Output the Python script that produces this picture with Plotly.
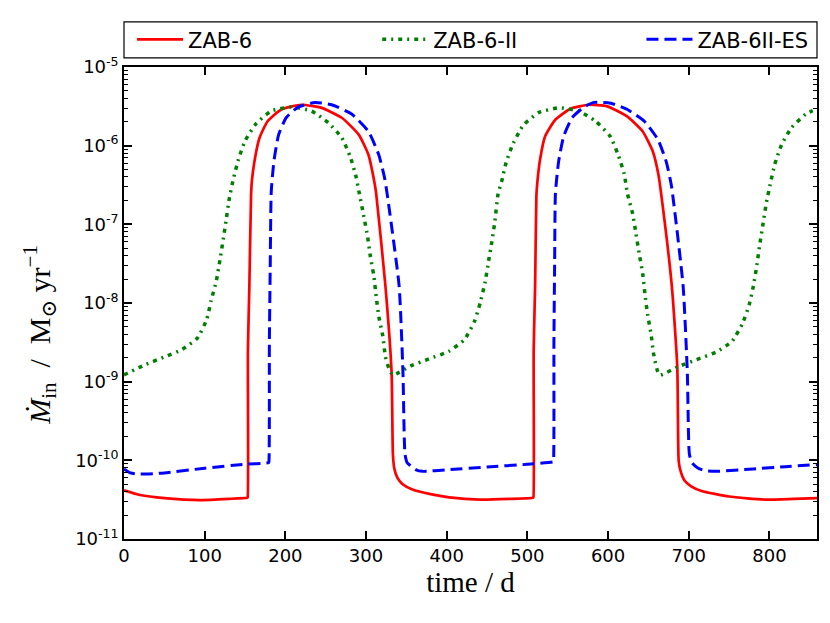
import numpy as np
import plotly.graph_objects as go

# ---- data (time in days, log10 of accretion rate) ----
t_zab6 = [0, 20, 50, 95, 130, 152.8, 153.3, 153.6, 155.4, 157.5, 158.5, 161.7, 168, 178,
          195, 220, 245, 270, 291, 303, 309.6, 312.5, 324, 331.7, 333.3, 335, 338.8, 345,
          357.5, 380, 403, 441, 480, 507.0, 507.5, 507.8, 509.6, 511.2, 512.5, 516, 522,
          534.6, 553.4, 576, 599, 624, 643, 655.4, 662.5, 665.8, 679, 685.8, 687.5, 689.5,
          695, 703, 716, 750, 795, 830, 859]
logm_zab6 = [-10.38, -10.44, -10.48, -10.505, -10.49, -10.475, -10.47, -8.6, -7.78, -6.63,
             -6.45, -6.2, -5.90, -5.69, -5.54, -5.48, -5.52, -5.645, -5.86, -6.115, -6.42,
             -6.6, -7.78, -8.89, -9.92, -10.1, -10.22, -10.30, -10.37, -10.43, -10.47,
             -10.50, -10.49, -10.475, -10.47, -8.6, -7.78, -6.63, -6.45, -6.16, -5.88,
             -5.67, -5.53, -5.48, -5.50, -5.63, -5.82, -6.07, -6.37, -6.61, -7.78, -8.81,
             -10.0, -10.12, -10.26, -10.33, -10.39, -10.46, -10.50, -10.49, -10.48]

t_zab6ii = [0, 24, 49, 72, 91, 102.5, 108, 114.6, 119, 123, 126.7, 130.4, 135.4, 141.7, 150,
            163.75, 182.5, 207.5, 232.5, 253.4, 270, 280.4, 287.5, 291.7, 297, 302, 305.4,
            309.6, 312.5, 315.8, 320.8, 324, 328.3, 333.3, 355.4, 378, 402.5, 422, 434.6,
            441.7, 447.5, 451.7, 455.8, 459.6, 463.75, 468, 474, 482.5, 495, 513.75, 538.75,
            563.75, 584.6, 602.5, 612.5, 620, 624, 630.4, 634.6, 638.75, 643, 645.8, 649,
            653.4, 656.7, 663.75, 686.7, 709.6, 733.75, 753.4, 766.7, 775, 780.4, 784.6, 788,
            792, 796, 801, 806.7, 815, 827.5, 845, 859]
logm_zab6ii = [-8.914, -8.795, -8.69, -8.59, -8.445, -8.21, -7.97, -7.71, -7.45, -7.19,
               -6.94, -6.68, -6.43, -6.18, -5.94, -5.72, -5.56, -5.51, -5.56, -5.71, -5.90,
               -6.14, -6.39, -6.61, -6.885, -7.16, -7.41, -7.65, -7.91, -8.17, -8.42, -8.68,
               -8.83, -8.915, -8.80, -8.71, -8.615, -8.465, -8.23, -7.99, -7.74, -7.48,
               -7.23, -6.97, -6.61, -6.46, -6.2, -5.97, -5.74, -5.58, -5.52, -5.56, -5.69,
               -5.88, -6.115, -6.36, -6.61, -6.86, -7.12, -7.38, -7.63, -7.89, -8.145,
               -8.40, -8.66, -8.915, -8.81, -8.72, -8.625, -8.49, -8.26, -8.02, -7.77,
               -7.51, -7.26, -7.00, -6.74, -6.49, -6.235, -5.99, -5.77, -5.60, -5.53]

t_zab6ii_es = [0, 8, 20, 50, 100, 150, 179.1, 179.6, 180.2, 181.3, 182.5, 185.8, 191.7, 201,
               215.8, 236.7, 257.5, 282.5, 303, 315.8, 323, 326, 341, 345.8, 348.3, 351,
               355.4, 362, 370, 400, 450, 500, 531.9, 532.4, 532.9, 533.8, 534.8, 538.75, 545,
               555.4, 570, 582.5, 603.4, 624, 645, 661.7, 672, 678.4, 693, 698.3, 700.8, 704,
               711.7, 720, 732.5, 780, 820, 859]
logm_zab6ii_es = [-10.11, -10.16, -10.175, -10.16, -10.10, -10.05, -10.03, -10.02, -8.5,
                  -7.5, -6.59, -6.2, -5.86, -5.645, -5.51, -5.45, -5.48, -5.60, -5.82,
                  -6.115, -6.41, -6.6, -7.78, -8.89, -9.92, -10.03, -10.07, -10.12, -10.14,
                  -10.12, -10.085, -10.05, -10.02, -10.01, -8.5, -7.5, -6.6, -6.2, -5.88,
                  -5.645, -5.51, -5.45, -5.46, -5.54, -5.69, -5.92, -6.2, -6.5, -7.78,
                  -8.89, -9.92, -10.03, -10.1, -10.13, -10.14, -10.11, -10.08, -10.055]

x_ticks = [0, 100, 200, 300, 400, 500, 600, 700, 800]
y_tickvals = [1e-11, 1e-10, 1e-9, 1e-8, 1e-7, 1e-6, 1e-5]
y_ticktext = ["10<sup>-11</sup>", "10<sup>-10</sup>", "10<sup>-9</sup>", "10<sup>-8</sup>",
              "10<sup>-7</sup>", "10<sup>-6</sup>", "10<sup>-5</sup>"]

sans = "DejaVu Sans, sans-serif"
serif = "Liberation Serif, DejaVu Serif, serif"

fig = go.Figure()

fig.add_trace(go.Scatter(
    x=t_zab6, y=10 ** np.array(logm_zab6), name="ZAB-6", mode="lines", legend="legend",
    line=dict(color="#ff0000", width=2.7, shape="spline", smoothing=0.5)
))
fig.add_trace(go.Scatter(
    x=t_zab6ii, y=10 ** np.array(logm_zab6ii), name="ZAB-6-II", mode="lines", legend="legend2",
    line=dict(color="#007f00", width=3.5, dash="4px,5px,2px,5px", shape="spline", smoothing=0.5)
))
fig.add_trace(go.Scatter(
    x=t_zab6ii_es, y=10 ** np.array(logm_zab6ii_es), name="ZAB-6II-ES", mode="lines",
    legend="legend3",
    line=dict(color="#0000ff", width=3, dash="12px,6px", shape="spline", smoothing=0.5)
))

leg = dict(orientation="h", xanchor="left", y=1.0578, yanchor="middle",
           bgcolor="rgba(0,0,0,0)", borderwidth=0, itemwidth=46,
           font=dict(family=sans, size=21, color="black"))

# page body adds an 8px offset, so the figure is drawn 8px smaller
fig.update_layout(
    width=822, height=615,
    margin=dict(l=116, r=11, t=56, b=84),
    plot_bgcolor="white", paper_bgcolor="white",
    font=dict(family=sans, size=18, color="black"),
    showlegend=True,
    legend=dict(leg, x=0.0116),
    legend2=dict(leg, x=0.3654),
    legend3=dict(leg, x=0.7467),
    shapes=[dict(type="rect", xref="paper", yref="paper", x0=0, x1=1, y0=1.0193, y1=1.0957,
                 line=dict(color="black", width=1.2), fillcolor="rgba(0,0,0,0)")],
    annotations=[dict(
        text="<i>Ṁ</i><sub>in</sub>  /  M<sub>⊙</sub> yr<sup>−1</sup>",
        xref="paper", yref="paper", x=0, y=0.4325, xshift=-84, textangle=-90,
        xanchor="center", yanchor="middle", showarrow=False,
        font=dict(family=serif, size=30, color="black"),
    )],
)

fig.update_xaxes(
    range=[0, 859], tickvals=x_ticks,
    ticks="inside", ticklen=8, tickwidth=1.5, tickcolor="black",
    showline=True, linecolor="black", linewidth=1.5, mirror="ticks",
    showgrid=False, zeroline=False,
    title=dict(text="time / d", font=dict(family=serif, size=29), standoff=6),
)
fig.update_yaxes(
    type="log", range=[-11, -5], tickvals=y_tickvals, ticktext=y_ticktext,
    ticks="inside", ticklen=8, tickwidth=1.5, tickcolor="black",
    minor=dict(ticks="inside", ticklen=4, tickcolor="black", tickwidth=1, dtick="D1",
               showgrid=False),
    showline=True, linecolor="black", linewidth=1.5, mirror="ticks",
    showgrid=False, zeroline=False,
)

fig.write_html("out.html")
